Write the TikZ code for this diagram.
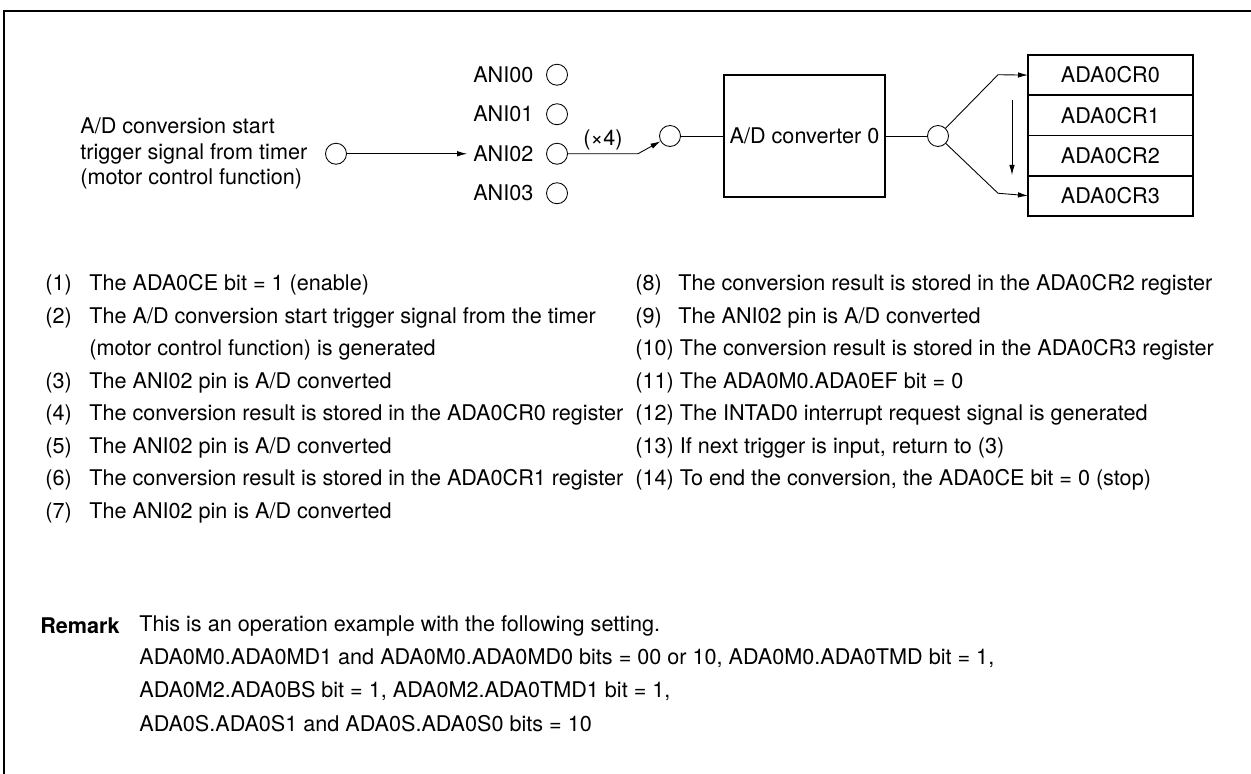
\documentclass[tikz,border=0pt]{standalone}
\usepackage{fontspec}
\setmainfont{TeX Gyre Heros}
\usetikzlibrary{arrows.meta,positioning}

\begin{document}
\begin{tikzpicture}

\tikzset{
  every node/.append style={font=\fontsize{12.3}{14.6}\selectfont},
  pincirc/.style={draw,shape=circle,minimum size=0.42cm,inner sep=0pt,line width=0.5pt},
  regbox/.style={draw,line width=0.4pt,minimum width=3.28cm,minimum height=0.79cm,inner sep=0pt,anchor=north west},
  listtxt/.style={anchor=west,inner sep=0pt},
  sig/.style={line width=0.5pt},
  tip/.style={-{Latex[length=2mm,width=1.1mm]}}
}

\useasboundingbox (0,0) rectangle (25.02,-15.48);

% Outer frame
\draw[line width=1.2pt] (0.08,-15.48) -- (0.08,-0.22) -- (25.02,-0.22);

% Draw the analog input pins
\node[pincirc] (ani0) at (11.14,-1.495) {};
\node[pincirc] (ani1) at (11.14,-2.285) {};
\node[pincirc] (ani2) at (11.14,-3.075) {};
\node[pincirc] (ani3) at (11.14,-3.865) {};
\node[left=0.13cm of ani0] (lbl0) {ANI00};
\node[left=0.13cm of ani1] (lbl1) {ANI01};
\node[left=0.13cm of ani2] (lbl2) {ANI02};
\node[left=0.13cm of ani3] (lbl3) {ANI03};

% Trigger input from the timer
\node[pincirc] (trig) at (6.72,-3.075) {};
\node[align=left,anchor=west,inner sep=0pt] (trigtxt) at (1.60,-3.075)
  {A/D conversion start\\trigger signal from timer\\(motor control function)};
\draw[sig,tip] (trig) -- (lbl2);

% Selector, converter and output switch
\node[pincirc] (sw) at (13.40,-2.72) {};
\coordinate (bend) at (12.76,-3.075);
\draw[sig,tip] (ani2) -- node[above,inner sep=2pt] (times) {(×4)} (bend) -- (sw);
\node[draw,line width=1.2pt,minimum width=2.98cm,minimum height=2.44cm] (adc) at (16.09,-2.72) {A/D converter 0};
\draw[sig] (sw) -- (adc);
\node[pincirc] (out) at (18.76,-2.72) {};
\draw[sig] (adc) -- (out);

% Result registers
\node[regbox] (reg0) at (20.56,-1.10) {ADA0CR0};
\node[regbox,below=0pt of reg0] (reg1) {ADA0CR1};
\node[regbox,below=0pt of reg1] (reg2) {ADA0CR2};
\node[regbox,below=0pt of reg2] (reg3) {ADA0CR3};
\draw[line width=1.2pt] (reg0.north west) rectangle (reg3.south east);

\coordinate (f0) at (19.96,-1.495);
\coordinate (f3) at (19.96,-3.865);
\draw[sig,tip] (out) -- (f0) -- (reg0.west);
\draw[sig,tip] (out) -- (f3) -- (reg3.west);
\coordinate (d0) at (20.24,-2.00);
\coordinate (d1) at (20.24,-3.50);
\draw[sig,tip] (d0) -- (d1);

% Operation steps, left column
\node[listtxt] (n1) at (0.90,-5.70) {(1)};
\node[listtxt] (t1) at (1.78,-5.70) {The ADA0CE bit = 1 (enable)};
\node[listtxt] (n2) at (0.90,-6.35) {(2)};
\node[listtxt] (t2) at (1.78,-6.35) {The A/D conversion start trigger signal from the timer};
\node[listtxt] (t2b) at (1.78,-7.00) {(motor control function) is generated};
\node[listtxt] (n3) at (0.90,-7.65) {(3)};
\node[listtxt] (t3) at (1.78,-7.65) {The ANI02 pin is A/D converted};
\node[listtxt] (n4) at (0.90,-8.30) {(4)};
\node[listtxt] (t4) at (1.78,-8.30) {The conversion result is stored in the ADA0CR0 register};
\node[listtxt] (n5) at (0.90,-8.95) {(5)};
\node[listtxt] (t5) at (1.78,-8.95) {The ANI02 pin is A/D converted};
\node[listtxt] (n6) at (0.90,-9.60) {(6)};
\node[listtxt] (t6) at (1.78,-9.60) {The conversion result is stored in the ADA0CR1 register};
\node[listtxt] (n7) at (0.90,-10.25) {(7)};
\node[listtxt] (t7) at (1.78,-10.25) {The ANI02 pin is A/D converted};

% Operation steps, right column
\node[listtxt] (n8) at (12.70,-5.70) {(8)};
\node[listtxt] (t8) at (13.56,-5.70) {The conversion result is stored in the ADA0CR2 register};
\node[listtxt] (n9) at (12.70,-6.35) {(9)};
\node[listtxt] (t9) at (13.56,-6.35) {The ANI02 pin is A/D converted};
\node[listtxt] (t10) at (12.70,-7.00) {(10) The conversion result is stored in the ADA0CR3 register};
\node[listtxt] (t11) at (12.70,-7.65) {(11) The ADA0M0.ADA0EF bit = 0};
\node[listtxt] (t12) at (12.70,-8.30) {(12) The INTAD0 interrupt request signal is generated};
\node[listtxt] (t13) at (12.70,-8.95) {(13) If next trigger is input, return to (3)};
\node[listtxt] (t14) at (12.70,-9.60) {(14) To end the conversion, the ADA0CE bit = 0 (stop)};

% Remark
\node[listtxt] (rem) at (0.80,-12.52) {\bfseries Remark};
\node[listtxt] (r1) at (2.78,-12.52) {This is an operation example with the following setting.};
\node[listtxt] (r2) at (2.78,-13.17) {ADA0M0.ADA0MD1 and ADA0M0.ADA0MD0 bits = 00 or 10, ADA0M0.ADA0TMD bit = 1,};
\node[listtxt] (r3) at (2.78,-13.82) {ADA0M2.ADA0BS bit = 1, ADA0M2.ADA0TMD1 bit = 1,};
\node[listtxt] (r4) at (2.78,-14.47) {ADA0S.ADA0S1 and ADA0S.ADA0S0 bits = 10};

\end{tikzpicture}
\end{document}
